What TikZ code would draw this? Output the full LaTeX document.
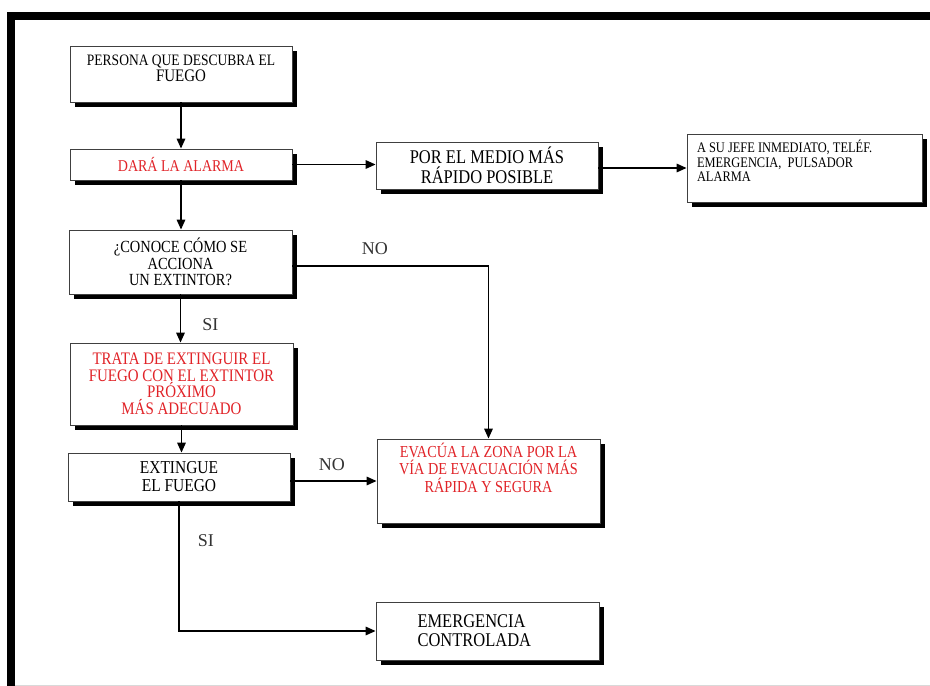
\documentclass[tikz,border=0pt]{standalone}
\usepackage{fontspec}
\setmainfont[FakeStretch=0.85]{Liberation Serif}
\newfontfamily\etiqfont{Liberation Serif}
\usetikzlibrary{shadows,arrows.meta}
\definecolor{rojo}{RGB}{225,35,40}

\begin{document}
\begin{tikzpicture}[x=1pt, y=-1pt,
		>={Triangle[length=10pt,width=8.5pt]},
		caja/.style={draw=black!75, line width=0.8pt, fill=white, inner sep=4pt, align=center,
			drop shadow={shadow xshift=4.5pt, shadow yshift=-4.5pt, fill=black, opacity=1}},
		flecha/.style={line width=1.6pt, ->},
		etiq/.style={font=\etiqfont\fontsize{18}{20}\selectfont, text=black!80, inner sep=1pt}]
		\useasboundingbox ( 0, 0 ) rectangle ( 930, 686 );

		% marco
		\fill ( 7, 12 ) rectangle ( 930, 20 );
		\fill ( 7, 12 ) rectangle ( 15, 686 );
		\draw [black!15, line width=1pt] ( 15, 685.5 ) -- ( 930, 685.5 );

		% columna izquierda
		\node [caja, minimum width=222pt, minimum height=56pt] (persona) at ( 181, 74 )
			{\parbox[c][48pt][t]{214pt}{\centering\vspace*{5pt}\fontsize{15.9}{16}\selectfont PERSONA QUE DESCUBRA EL\\\fontsize{17.6}{16}\selectfont FUEGO}};
		\node [caja, minimum width=222pt, minimum height=31pt, text=rojo, font=\fontsize{16.5}{18}\selectfont] (alarma) at ( 181, 164.5 ) {DARÁ LA ALARMA};
		\node [caja, minimum width=223pt, minimum height=64pt, font=\fontsize{17}{16.5}\selectfont] (conoce) at ( 180.5, 262 ) {¿CONOCE CÓMO SE\\ACCIONA\\UN EXTINTOR?};
		\node [caja, minimum width=223pt, minimum height=82pt, text=rojo, font=\fontsize{17.6}{16.5}\selectfont] (trata) at ( 181.5, 384 ) {TRATA DE EXTINGUIR EL\\FUEGO CON EL EXTINTOR\\PRÓXIMO\\MÁS ADECUADO};
		\node [caja, minimum width=222pt, minimum height=48pt, font=\fontsize{18.2}{18}\selectfont] (extingue) at ( 179, 477 ) {EXTINGUE\\EL FUEGO};

		% columna central
		\node [caja, minimum width=222pt, minimum height=47pt, font=\fontsize{19.4}{20}\selectfont] (medio) at ( 487, 165.5 ) {POR EL MEDIO MÁS\\RÁPIDO POSIBLE};
		\node [caja, minimum width=223pt, minimum height=84pt, text=rojo] (evacua) at ( 488.5, 481 )
			{\parbox[c][76pt][t]{215pt}{\centering\fontsize{16.8}{17.5}\selectfont EVACÚA LA ZONA POR LA\\VÍA DE EVACUACIÓN MÁS\\RÁPIDA Y SEGURA}};
		\node [caja, minimum width=223pt, minimum height=58pt, inner xsep=41.5pt, text width=140pt, align=left, font=\fontsize{19.4}{19}\selectfont] (emergencia) at ( 487.5, 631 ) {EMERGENCIA\\CONTROLADA};

		% columna derecha
		\node [caja, inner xsep=10pt, minimum width=235pt, minimum height=68pt] (jefe) at ( 804.5, 168 )
			{\parbox[c][60pt][t]{215pt}{\raggedright\vspace*{2pt}\fontsize{14.6}{14.5}\selectfont A SU JEFE INMEDIATO, TELÉF.\\EMERGENCIA,\ \ PULSADOR\\ALARMA}};

		% flechas
		\draw [flecha] (persona) -- (alarma);
		\draw [flecha] (alarma.south) -- (alarma.south |- conoce.north);
		\draw [flecha] (alarma.east) -- (alarma.east -| medio.west);
		\draw [flecha] (medio.east |- jefe.west) -- (jefe.west);
		\draw [flecha] ([yshift=-4pt]conoce.east) -| node [etiq, pos=0.21, above=10pt] (no1) {NO} (evacua.north);
		\draw [flecha] (conoce.south) -- node [etiq, pos=0.63, right=20pt] (si1) {SI} (conoce.south |- trata.north);
		\draw [flecha] (trata.south) -- (trata.south |- extingue.north);
		\draw [flecha] (extingue.east |- evacua.west) -- node [etiq, pos=0.48, above=9pt] (no2) {NO} (evacua.west);
		\draw [flecha] (extingue.south) |- node [etiq, pos=0.15, right=17pt] (si2) {SI} (emergencia.west);
	\end{tikzpicture}
\end{document}
